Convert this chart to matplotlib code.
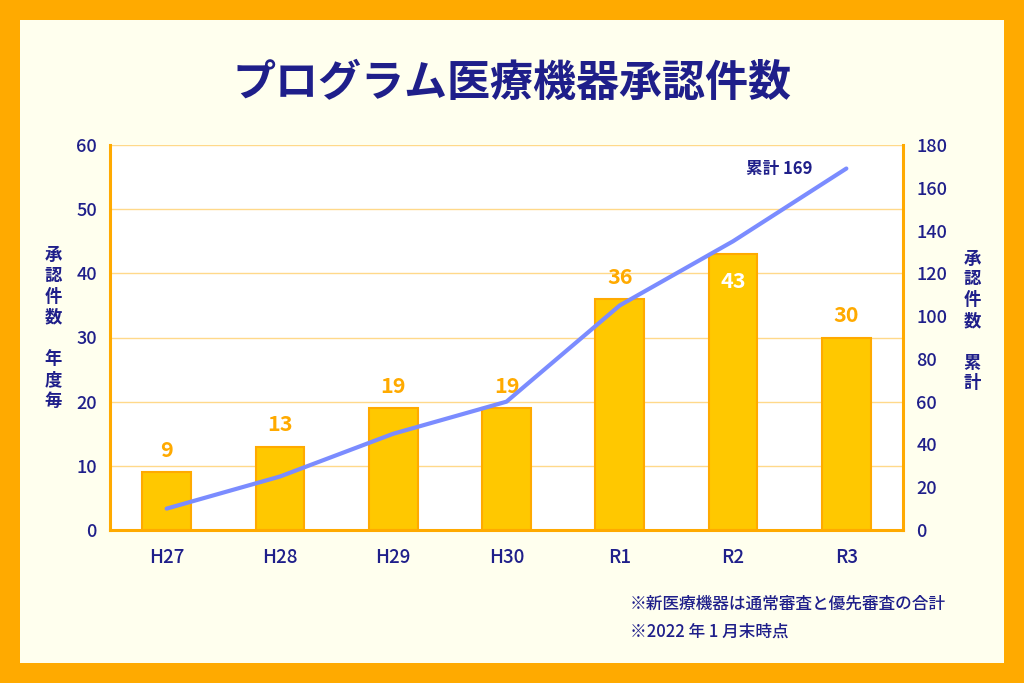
import numpy as np
import matplotlib.pyplot as plt
from matplotlib.patches import Rectangle

plt.rcParams['font.family'] = ['Noto Sans CJK JP', 'DejaVu Sans']

years = ["H27", "H28", "H29", "H30", "R1", "R2", "R3"]
approvals = [9, 13, 19, 19, 36, 43, 30]
# cumulative line as drawn in the chart
cumulative = [10, 25, 45, 60, 105, 135, 169]

NAVY = "#1f1f8a"
ORANGE = "#ffaa00"
BAR = "#ffc800"
LINE = "#7b8cff"

fig = plt.figure(figsize=(10.24, 6.83), dpi=100)
fig.patch.set_facecolor(ORANGE)
fig.patches.append(Rectangle((20 / 1024, 20 / 683), 984 / 1024, 643 / 683,
                             transform=fig.transFigure, facecolor="#ffffee",
                             edgecolor="none", zorder=-5))

ax = fig.add_axes([110 / 1024, 153 / 683, 793 / 1024, 385 / 683])
ax.set_zorder(2)
ax.set_facecolor("white")
x = np.arange(len(years))
ax.bar(x, approvals, width=0.43, color=BAR, edgecolor=ORANGE, linewidth=1.5, zorder=2)
ax.set_xlim(-0.5, len(years) - 0.5)
ax.set_ylim(0, 60)
ax.set_yticks(range(0, 61, 10))
ax.set_xticks(x)
ax.set_xticklabels(years, fontweight="medium")
ax.grid(axis="y", color="#ffd98a", linewidth=1, zorder=1)
ax.set_axisbelow(True)
ax.tick_params(length=0, colors=NAVY, labelsize=13, pad=9.5)
ax.tick_params(axis="x", pad=13, labelsize=13.5)
for lbl in ax.get_yticklabels():
    lbl.set_fontweight("medium")
for s in ["left", "bottom", "right"]:
    ax.spines[s].set_color(ORANGE)
    ax.spines[s].set_linewidth(2.2)
ax.spines["top"].set_visible(False)

for i, v in enumerate(approvals):
    if v > 40:
        ax.text(i, v - 4.2, str(v), ha="center", va="center", color="white",
                fontsize=15.5, fontweight="bold", zorder=5)
    else:
        ax.text(i, v + 3.4, str(v), ha="center", va="center", color=ORANGE,
                fontsize=15.5, fontweight="bold", zorder=5)

ax2 = ax.twinx()
ax2.plot(x, cumulative, color=LINE, linewidth=3, solid_capstyle="round", zorder=4)
ax2.set_ylim(0, 180)
ax2.set_yticks(range(0, 181, 20))
ax2.tick_params(length=0, colors=NAVY, labelsize=13, pad=9.5)
for lbl in ax2.get_yticklabels():
    lbl.set_fontweight("medium")
for s in ax2.spines.values():
    s.set_visible(False)
ax2.text(x[-1] - 0.3, cumulative[-1], "累計 169", ha="right", va="center",
         color=NAVY, fontsize=12, fontweight="bold")

fig.text(512 / 1024, 1 - 83 / 683, "プログラム医療機器承認件数", ha="center", va="center",
         color=NAVY, fontsize=31, fontweight="bold")
fig.text(53 / 1024, 1 - 328 / 683, "承\n認\n件\n数\n\n年\n度\n毎", ha="center", va="center",
         color=NAVY, fontsize=12.5, fontweight="bold", linespacing=1.2)
fig.text(972 / 1024, 1 - 321 / 683, "承\n認\n件\n数\n\n累\n計", ha="center", va="center",
         color=NAVY, fontsize=12.5, fontweight="bold", linespacing=1.2)
fig.text(630 / 1024, 1 - 604 / 683, "※新医療機器は通常審査と優先審査の合計", ha="left", va="center",
         color=NAVY, fontsize=12, fontweight="medium")
fig.text(630 / 1024, 1 - 632 / 683, "※2022 年 1 月末時点", ha="left", va="center",
         color=NAVY, fontsize=12, fontweight="medium")

fig.savefig("out.png", dpi=100, facecolor=fig.get_facecolor())
